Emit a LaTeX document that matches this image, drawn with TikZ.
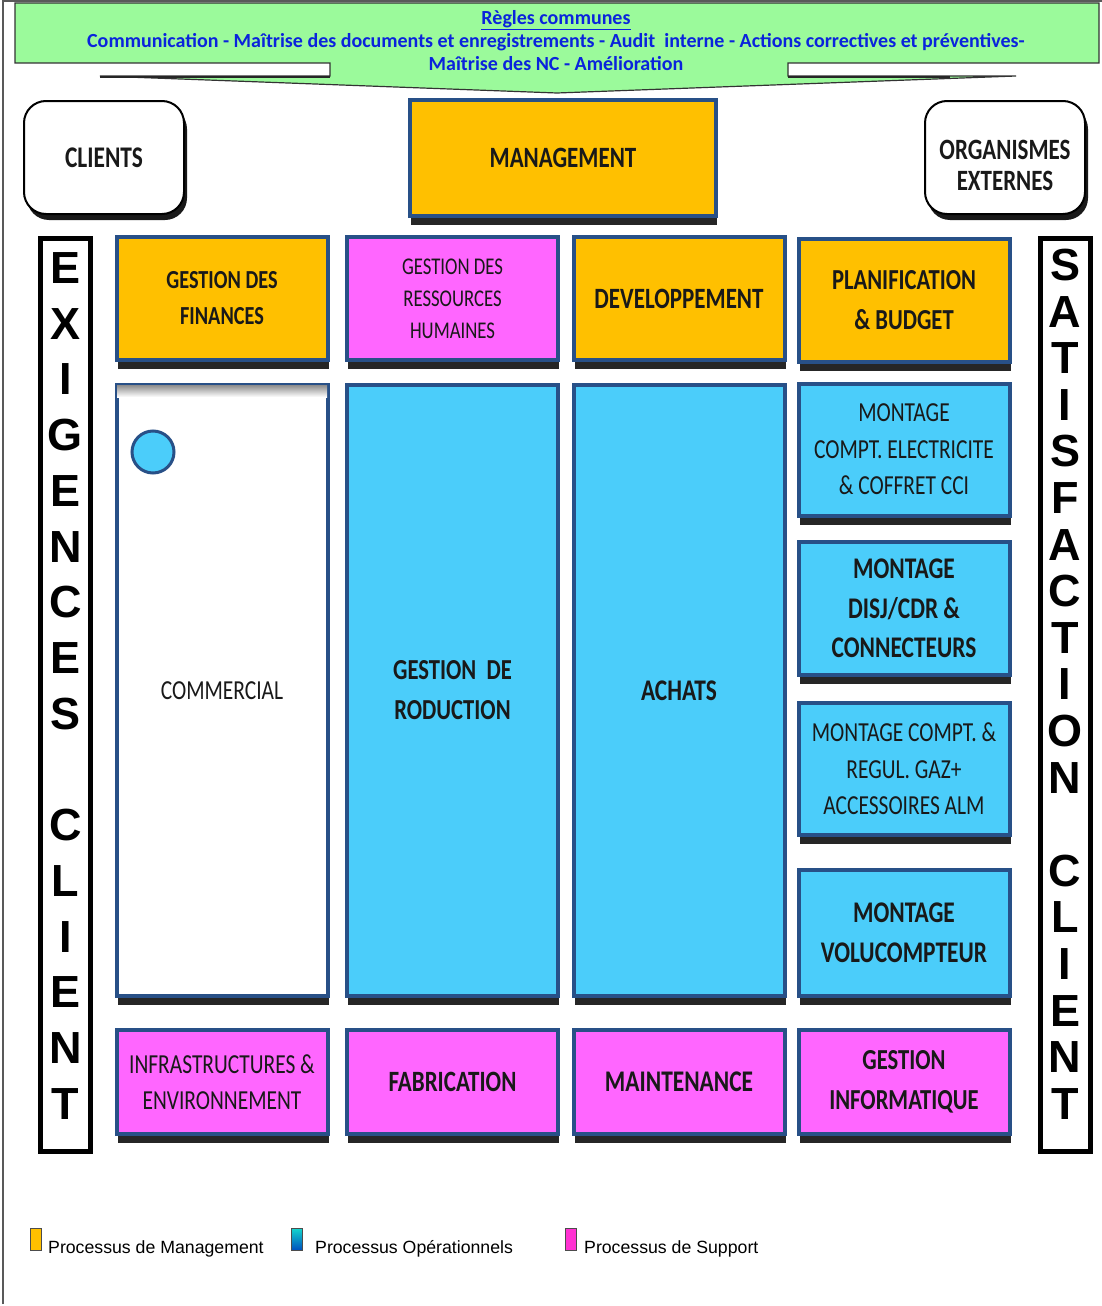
\documentclass[tikz,border=0pt]{standalone}
\usepackage{fontspec}
\setmainfont{Liberation Sans}
\newfontfamily\lab[FakeStretch=0.78]{Carlito}
\newfontfamily\ban{Carlito}
\usetikzlibrary{shadows}

\definecolor{mgmt}{RGB}{255,192,0}
\definecolor{oper}{RGB}{75,205,250}
\definecolor{supp}{RGB}{255,102,255}
\definecolor{rim}{RGB}{40,80,135}
\definecolor{bann}{RGB}{155,250,155}
\definecolor{bantext}{RGB}{10,35,220}

% font helpers: size / baseline skip
\newcommand{\lb}[2]{\lab\bfseries\fontsize{#1}{#2}\selectfont}
\newcommand{\lr}[2]{\lab\fontsize{#1}{#2}\selectfont}

\tikzset{
  pbox/.style={draw=rim, line width=4pt, inner sep=2pt, align=center,
    text=black!90, minimum width=211pt,
    drop shadow={shadow xshift=1pt, shadow yshift=-9pt, fill=black, opacity=0.85}},
  rbox/.style={draw=black, line width=2pt, rounded corners=22pt, fill=white,
    align=center, text=black!90, minimum width=160pt, minimum height=113pt,
    drop shadow={shadow xshift=3pt, shadow yshift=-6pt, fill=black, opacity=0.9}},
  bar/.style={draw=black, line width=5pt, fill=white,
    minimum width=50pt, minimum height=913pt, inner sep=0pt},
  vlet/.style={font=\fontsize{45}{45}\selectfont\bfseries, inner sep=0pt},
  bantxt/.style={text=bantext, font=\ban\bfseries\fontsize{20}{22}\selectfont, inner sep=0pt},
  legsw/.style={draw=black!70, line width=0.8pt, minimum width=11pt, minimum height=22pt, inner sep=0pt},
  legtxt/.style={font=\fontsize{17.7}{17.7}\selectfont, inner sep=0pt, anchor=base west}
}

\begin{document}
\begin{tikzpicture}[x=1pt, y=-1pt]
\useasboundingbox (0,0) rectangle (1102,1306);
\fill[white] (0,0) rectangle (1102,1306);

% outer frame
\draw[black!65, line width=1.2pt] (3,1304) -- (3,1) -- (1102,1);

% common rules banner (down-arrow callout)
\draw[black!80, line width=1.2pt, fill=bann, line join=miter]
  (15,3) -- (1099,3) -- (1099,63) -- (788,63) -- (788,76) -- (1016,76)
  -- (557,93) -- (100,76) -- (330,76) -- (330,63) -- (15,63) -- cycle;
\draw[black!85, line width=2.2pt] (100,77) -- (330,77);
\draw[black!85, line width=2.2pt] (788,77) -- (950,77);
\node[bantxt] (rc1) at (556,20.5) {\underline{Règles communes}};
\node[bantxt] (rc2) at (556,42) {Communication - Maîtrise des documents et enregistrements - Audit\ \ interne - Actions correctives et préventives-};
\node[bantxt] (rc3) at (556,63.5) {Maîtrise des NC - Amélioration};

% top row
\node[rbox, font={\lb{30}{34}}] (cli) at (104,157.5) {CLIENTS};
\node[pbox, fill=mgmt, minimum width=306pt, minimum height=116pt, font={\lb{29.5}{34}}] (mgt) at (563,158) {MANAGEMENT};
\node[rbox] (org) at (1005,157.5) {};
\node[align=center, text=black!90, font={\lb{29.5}{31}}] (orgtxt) at (1005,165) {ORGANISMES\\EXTERNES};

% side bars
\node[bar] (lbar) at (65.5,695) {};
\node[bar] (rbar) at (1065,695) {};
\foreach \ch/\k in {E/0,X/1,I/2,G/3,E/4,N/5,C/6,E/7,S/8,C/10,L/11,I/12,E/13,N/14,T/15}
  \node[vlet] (le\k) at (65.5,{268+\k*55.73}) {\ch};
\foreach \ch/\k in {S/0,A/1,T/2,I/3,S/4,F/5,A/6,C/7,T/8,I/9,O/10,N/11,C/13,L/14,I/15,E/16,N/17,T/18}
  \node[vlet] (ri\k) at (1065,{265+\k*46.6}) {\ch};

% row 1
\node[pbox, fill=mgmt, minimum height=123pt, font={\lb{26}{36}}] (fin) at (222,298.5) {GESTION DES\\FINANCES};
\node[pbox, fill=supp, minimum height=123pt, font={\lr{24}{32}}] (grh) at (452.5,298.5) {GESTION DES\\RESSOURCES\\HUMAINES};
\node[pbox, fill=mgmt, minimum height=123pt, font={\lb{29.5}{34}}] (dev) at (679,298.5) {DEVELOPPEMENT};
\node[pbox, fill=mgmt, minimum height=123pt, font={\lb{29}{40}}] (pla) at (904,300) {PLANIFICATION\\\& BUDGET};

% row 2
\node[pbox, fill=white, minimum height=611pt, font={\lr{27.5}{30}}] (com) at (222,690.5) {COMMERCIAL};
\shade[top color=black!45, bottom color=white] (117,385) rectangle (327,397);
\node[circle, draw=rim, line width=3pt, fill=oper, minimum size=42pt, inner sep=0pt] (dot) at (153,452) {};
\node[pbox, fill=oper, minimum height=611pt, font={\lb{29}{40}}] (prod) at (452.5,690.5) {GESTION\ \ DE\\RODUCTION};
\node[pbox, fill=oper, minimum height=611pt, font={\lb{30}{32}}] (ach) at (679,690.5) {ACHATS};
\node[pbox, fill=oper, minimum height=132pt, font={\lr{27.5}{36.5}}] (ma) at (904,449.5) {MONTAGE\\COMPT. ELECTRICITE\\\& COFFRET CCI};
\node[pbox, fill=oper, minimum height=133pt, font={\lb{30}{39.5}}] (mb) at (904,608.5) {MONTAGE\\DISJ/CDR \&\\CONNECTEURS};
\node[pbox, fill=oper, minimum height=132pt, font={\lr{27.5}{36.5}}] (mc) at (904,769) {MONTAGE COMPT. \&\\REGUL. GAZ+\\ACCESSOIRES ALM};
\node[pbox, fill=oper, minimum height=126pt, font={\lb{30}{40}}] (md) at (904,933) {MONTAGE\\VOLUCOMPTEUR};

% row 3
\node[pbox, fill=supp, minimum height=104pt, font={\lr{27.5}{36}}] (inf) at (222,1082) {INFRASTRUCTURES \&\\ENVIRONNEMENT};
\node[pbox, fill=supp, minimum height=104pt, font={\lb{29.5}{32}}] (fab) at (452.5,1082) {FABRICATION};
\node[pbox, fill=supp, minimum height=104pt, font={\lb{30}{32}}] (mai) at (679,1082) {MAINTENANCE};
\node[pbox, fill=supp, minimum height=104pt, font={\lb{29}{40}}] (inf2) at (904,1082) {GESTION\\INFORMATIQUE};

% legend
\node[legsw, fill=mgmt] (sw1) at (35.5,1239) {};
\node[legtxt] (lg1) at (48,1253) {Processus de Management};
\node[legsw, top color={rgb,255:red,20;green,215;blue,205}, bottom color={rgb,255:red,0;green,80;blue,190}] (sw2) at (297,1239) {};
\node[legtxt] (lg2) at (315,1253) {Processus Opérationnels};
\node[legsw, fill={rgb,255:red,255;green,50;blue,210}] (sw3) at (571,1239) {};
\node[legtxt] (lg3) at (584,1253) {Processus de Support};
\end{tikzpicture}
\end{document}
